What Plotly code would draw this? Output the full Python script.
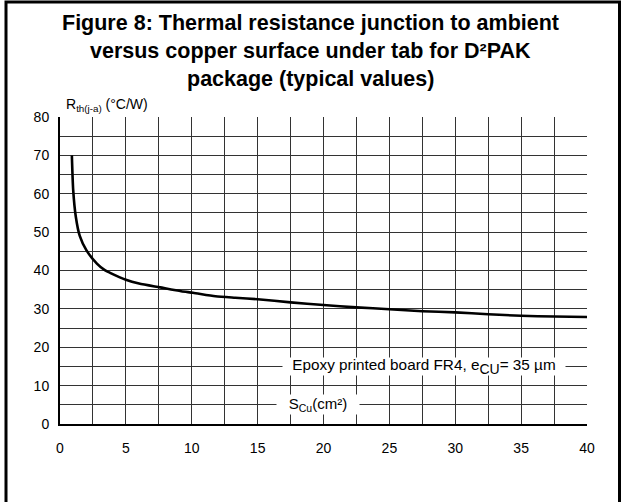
import plotly.graph_objects as go

# ---- data ----
s_cu = [0.9, 1.0, 1.2, 1.5, 2.0, 2.8, 3.4, 3.8, 5.0, 6.0, 7.6, 9.2, 10.1, 11.8,
        13.3, 15.0, 17.5, 20.0, 22.5, 25.0, 27.5, 30.0, 32.5, 35.0, 37.5, 40.0]
rth = [70.0, 61.0, 54.0, 49.0, 45.3, 41.8, 40.1, 39.4, 37.6, 36.6, 35.6, 34.6, 34.2, 33.3,
       32.9, 32.5, 31.7, 31.0, 30.4, 29.9, 29.4, 29.1, 28.6, 28.2, 28.0, 27.9]
x_ticks = [0, 5, 10, 15, 20, 25, 30, 35, 40]
y_ticks = [0, 10, 20, 30, 40, 50, 60, 70, 80]

title_lines = ["Figure 8: Thermal resistance junction to ambient",
               "versus copper surface under tab for D²PAK",
               "package (typical values)"]

W, H = 621, 502
L, R, T, B = 60, 34, 117, 78
PW, PH = W - L - R, H - T - B


def px(xp):
    return (xp - L) / PW


def py(yp):
    return (H - B - yp) / PH


FONT = "Liberation Sans, Arial, sans-serif"
GRID = "#333333"

fig = go.Figure()
fig.add_trace(go.Scatter(x=s_cu, y=rth, mode="lines",
                         line=dict(color="black", width=2.6, shape="spline", smoothing=0.6),
                         hoverinfo="skip", showlegend=False))

fig.update_xaxes(range=[0, 40], tickvals=x_ticks, showgrid=True, gridcolor=GRID, gridwidth=1,
                 minor=dict(dtick=2.5, showgrid=True, gridcolor=GRID, gridwidth=1, ticks=""),
                 showline=True, linecolor="black", linewidth=2, zeroline=False, ticks="",
                 ticklabelstandoff=10,
                 tickfont=dict(family=FONT, size=14, color="black"), fixedrange=True)
fig.update_yaxes(range=[0, 80], tickvals=y_ticks, showgrid=True, gridcolor=GRID, gridwidth=1,
                 minor=dict(dtick=5, showgrid=True, gridcolor=GRID, gridwidth=1, ticks=""),
                 showline=True, linecolor="black", linewidth=2, zeroline=False, ticks="",
                 ticklabelstandoff=6,
                 tickfont=dict(family=FONT, size=14, color="black"), fixedrange=True)

annotations = []
for line, yp in zip(title_lines, [23, 51, 79]):
    annotations.append(dict(xref="paper", yref="paper", x=px(W / 2), y=py(yp),
                            xanchor="center", yanchor="middle", showarrow=False,
                            text="<b>" + line + "</b>",
                            font=dict(family=FONT, size=21.5, color="black")))

annotations.append(dict(xref="paper", yref="paper", x=px(64), y=py(105),
                        xanchor="left", yanchor="middle", showarrow=False,
                        text="R<sub>th(j-a)</sub> (°C/W)",
                        font=dict(family=FONT, size=14, color="black")))

annotations.append(dict(xref="x", yref="y", x=27.6, y=15, xanchor="center", yanchor="middle",
                        showarrow=False, width=282, height=17, bgcolor="white", borderpad=0,
                        text="Epoxy printed board FR4, e<sub><span style='font-size:14px'>CU</span></sub>= 35 µm",
                        font=dict(family=FONT, size=15.3, color="black")))

annotations.append(dict(xref="x", yref="y", x=19.6, y=5, xanchor="center", yanchor="middle",
                        showarrow=False, width=82, height=19, bgcolor="white", borderpad=0,
                        text="S<sub>Cu</sub>(cm²)",
                        font=dict(family=FONT, size=15, color="black")))

shapes = [dict(type="rect", xref="paper", yref="paper",
               x0=px(6), x1=px(619.5), y0=py(H + 20), y1=py(2),
               line=dict(color="black", width=3), fillcolor="rgba(0,0,0,0)", layer="above")]

fig.update_layout(width=W, height=H, margin=dict(l=L, r=R, t=T, b=B, autoexpand=False),
                  paper_bgcolor="white", plot_bgcolor="white",
                  annotations=annotations, shapes=shapes, showlegend=False,
                  font=dict(family=FONT, color="black"))

fig.write_html("out.html", config={"displayModeBar": False},
               post_script="document.body.style.margin='0';document.body.style.overflow='hidden';")
